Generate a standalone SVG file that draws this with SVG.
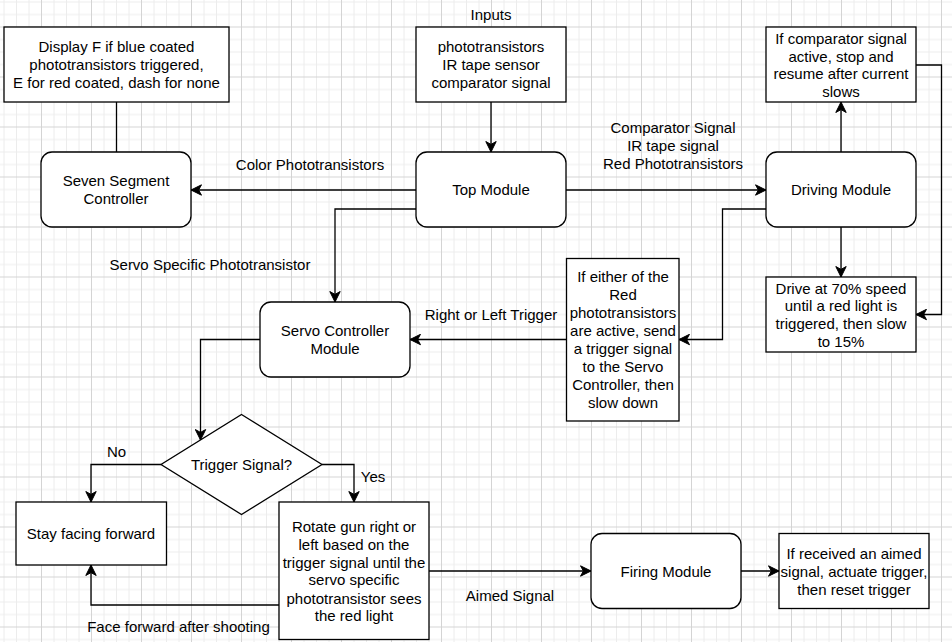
<svg xmlns="http://www.w3.org/2000/svg" width="952" height="642" viewBox="0 0 952 642">
  <style>
    .box { fill: #ffffff; stroke: #000000; stroke-width: 1.3; }
    .edge { fill: none; stroke: #000000; stroke-width: 1.3; }
    .arrow { marker-end: url(#head); }
    text { font-family: "Liberation Sans", Arial, Helvetica, sans-serif; font-size: 15px; fill: #000000; text-anchor: middle; }
  </style>
  <defs>
    <pattern id="grid" x="41" y="26.5" width="50" height="50" patternUnits="userSpaceOnUse">
      <path d="M13 0V50M25.5 0V50M38 0V50M0 13H50M0 25.5H50M0 38H50" stroke="#ececec" stroke-width="1" fill="none"/>
      <path d="M0.5 0V50M0 0.5H50" stroke="#d4d4d4" stroke-width="1" fill="none"/>
    </pattern>
    <marker id="head" markerUnits="userSpaceOnUse" markerWidth="12" markerHeight="12" viewBox="-11 -6 12 12" refX="0" refY="0" orient="auto">
      <path d="M0 0L-10.5 -5.2L-7.6 0L-10.5 5.2Z" fill="#000000" stroke="#000000" stroke-width="1"/>
    </marker>
  </defs>

  <!-- canvas -->
  <rect width="952" height="642" fill="#ffffff"/>
  <rect width="952" height="642" fill="url(#grid)"/>

  <!-- connectors -->
  <g id="connectors">
    <path class="edge" d="M116.5 102V152"/>
    <path class="edge arrow" d="M491 102V152"/>
    <path class="edge arrow" d="M416 190H191"/>
    <path class="edge arrow" d="M566 190H766"/>
    <path class="edge arrow" d="M841 152V102"/>
    <path class="edge arrow" d="M916 65H941.5V314.5H916"/>
    <path class="edge arrow" d="M841 227V277"/>
    <path class="edge arrow" d="M766 209H722.5V339.5H679"/>
    <path class="edge arrow" d="M566.5 339.5H410"/>
    <path class="edge arrow" d="M416 209H335V302"/>
    <path class="edge arrow" d="M260 339.5H200.5V440"/>
    <path class="edge arrow" d="M161 464.5H91V502"/>
    <path class="edge arrow" d="M322 464.5H354V502"/>
    <path class="edge arrow" d="M279 605H91V565"/>
    <path class="edge arrow" d="M429 571H591"/>
    <path class="edge arrow" d="M741 571H779"/>

    <!-- connector labels -->
    <text x="310" y="170">Color Phototransistors</text>
    <text x="673" y="133">Comparator Signal</text>
    <text x="673" y="151">IR tape signal</text>
    <text x="673" y="169">Red Phototransistors</text>
    <text x="210" y="270">Servo Specific Phototransistor</text>
    <text x="491" y="320">Right or Left Trigger</text>
    <text x="116.5" y="457">No</text>
    <text x="373" y="482">Yes</text>
    <text x="178.5" y="632">Face forward after shooting</text>
    <text x="510" y="601">Aimed Signal</text>
  </g>

  <!-- nodes -->
  <g id="display-note">
    <rect class="box" x="4" y="27" width="225" height="75"/>
    <text x="116.5" y="52">Display F if blue coated</text>
    <text x="116.5" y="70">phototransistors triggered,</text>
    <text x="116.5" y="88">E for red coated, dash for none</text>
  </g>

  <g id="seven-segment">
    <rect class="box" x="41" y="152" width="150" height="75" rx="11"/>
    <text x="116" y="186">Seven Segment</text>
    <text x="116" y="204">Controller</text>
  </g>

  <g id="inputs">
    <text x="491" y="20">Inputs</text>
    <rect class="box" x="416" y="27" width="150" height="75"/>
    <text x="491" y="52">phototransistors</text>
    <text x="491" y="70">IR tape sensor</text>
    <text x="491" y="88">comparator signal</text>
  </g>

  <g id="top-module">
    <rect class="box" x="416" y="152" width="150" height="75" rx="11"/>
    <text x="491" y="195">Top Module</text>
  </g>

  <g id="comparator-note">
    <rect class="box" x="766" y="27" width="150" height="75"/>
    <text x="841" y="43.5">If comparator signal</text>
    <text x="841" y="61.5">active, stop and</text>
    <text x="841" y="79">resume after current</text>
    <text x="841" y="97">slows</text>
  </g>

  <g id="driving-module">
    <rect class="box" x="766" y="152" width="150" height="75" rx="11"/>
    <text x="841" y="195">Driving Module</text>
  </g>

  <g id="speed-note">
    <rect class="box" x="766" y="277" width="150" height="75"/>
    <text x="841" y="293.5">Drive at 70% speed</text>
    <text x="841" y="311">until a red light is</text>
    <text x="841" y="329">triggered, then slow</text>
    <text x="841" y="347">to 15%</text>
  </g>

  <g id="trigger-note">
    <rect class="box" x="566.5" y="258.5" width="112.5" height="162.5"/>
    <text x="623" y="282">If either of the</text>
    <text x="623" y="299.5">Red</text>
    <text x="623" y="318">phototransistors</text>
    <text x="623" y="336">are active, send</text>
    <text x="623" y="354">a trigger signal</text>
    <text x="623" y="372">to the Servo</text>
    <text x="623" y="390">Controller, then</text>
    <text x="623" y="408">slow down</text>
  </g>

  <g id="servo-controller">
    <rect class="box" x="260" y="302" width="150" height="75" rx="11"/>
    <text x="335" y="336">Servo Controller</text>
    <text x="335" y="354">Module</text>
  </g>

  <g id="trigger-decision">
    <path class="box" d="M241.5 414.5L322 464.5L241.5 514.5L161 464.5Z"/>
    <text x="241.5" y="469.5">Trigger Signal?</text>
  </g>

  <g id="stay-forward">
    <rect class="box" x="16" y="502" width="150.5" height="63"/>
    <text x="91" y="538.5">Stay facing forward</text>
  </g>

  <g id="rotate-gun">
    <rect class="box" x="279" y="502" width="150" height="137.5"/>
    <text x="354" y="532">Rotate gun right or</text>
    <text x="354" y="549.5">left based on the</text>
    <text x="354" y="567.5">trigger signal until the</text>
    <text x="354" y="585">servo specific</text>
    <text x="354" y="603.5">phototransistor sees</text>
    <text x="354" y="621">the red light</text>
  </g>

  <g id="firing-module">
    <rect class="box" x="591" y="533.5" width="150" height="75" rx="11"/>
    <text x="666" y="576.5">Firing Module</text>
  </g>

  <g id="firing-note">
    <rect class="box" x="779" y="533.5" width="150" height="75"/>
    <text x="854" y="558.5">If received an aimed</text>
    <text x="854" y="577">signal, actuate trigger,</text>
    <text x="854" y="594.5">then reset trigger</text>
  </g>
</svg>
